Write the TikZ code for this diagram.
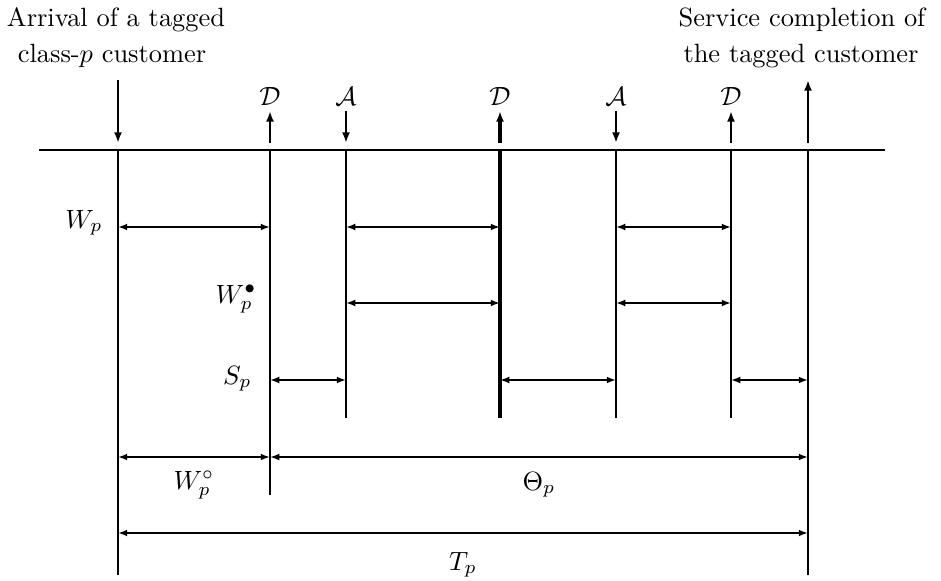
\documentclass[tikz,border=0pt]{standalone}
\usetikzlibrary{arrows.meta}
\begin{document}
\begin{tikzpicture}[x=0.0133cm,y=-0.0133cm,
  vline/.style={line width=0.85pt},
  thickv/.style={line width=1.2pt},
  evarrow/.style={line width=0.85pt,-{Latex[length=4pt,width=3pt]}},
  dim/.style={line width=0.7pt,{Latex[length=3.5pt,width=2.6pt]}-{Latex[length=3.5pt,width=2.6pt]}},
  dimthick/.style={line width=1.05pt,{Latex[length=3.5pt,width=2.6pt]}-{Latex[length=3.5pt,width=2.6pt]}},
  lbl/.style={inner sep=0pt}]
\useasboundingbox (0,0) rectangle (941,580);
% time axis
\coordinate (axL) at (39,150);
\coordinate (axR) at (885,150);
\draw[vline] (axL) -- (axR);
% vertical lines
\foreach \n/\x/\b in {a/118/575, b/270/495, c/346/418, e/616/418, f/731/418, g/808/575}{
  \coordinate (\n t) at (\x,150);
  \coordinate (\n b) at (\x,\b);
  \draw[vline] (\n t) -- (\n b);
}
\coordinate (dt) at (500,150);
\coordinate (db) at (500,418);
\draw[thickv] (dt) -- (db);
% event arrows
\coordinate (a0) at (118,80);  \coordinate (a1) at (118,143);
\draw[evarrow] (a0) -- (a1);
\coordinate (g0) at (808,143);  \coordinate (g1) at (808,80);
\draw[evarrow] (g0) -- (g1);
\coordinate (b0) at (270,143); \coordinate (b1) at (270,111);
\draw[evarrow] (b0) -- (b1);
\coordinate (c0) at (346,111); \coordinate (c1) at (346,143);
\draw[evarrow] (c0) -- (c1);
\coordinate (d0) at (500,143); \coordinate (d1) at (500,111);
\draw[evarrow,line width=1.2pt] (d0) -- (d1);
\coordinate (e0) at (616,111); \coordinate (e1) at (616,143);
\draw[evarrow] (e0) -- (e1);
\coordinate (f0) at (731,143); \coordinate (f1) at (731,111);
\draw[evarrow] (f0) -- (f1);
\node[lbl,anchor=base] (Db) at (270,105) {$\mathcal{D}$};
\node[lbl,anchor=base] (Ac) at (346,105) {$\mathcal{A}$};
\node[lbl,anchor=base] (Dd) at (500,105) {$\mathcal{D}$};
\node[lbl,anchor=base] (Ae) at (616,105) {$\mathcal{A}$};
\node[lbl,anchor=base] (Df) at (731,105) {$\mathcal{D}$};
% top texts
\node[lbl,anchor=base] (arr1) at (116,27) {Arrival of a tagged};
\node[lbl,anchor=base] (arr2) at (112,63) {class-$p$ customer};
\node[lbl,anchor=base] (srv1) at (802,27) {Service completion of};
\node[lbl,anchor=base] (srv2) at (801,63) {the tagged customer};
% W_p row
\draw[dimthick] (118,227) -- (270,227);
\draw[dimthick] (346,227) -- (500,227);
\draw[dimthick] (616,227) -- (731,227);
\node[lbl,anchor=base east] (Wp) at (103,228) {$W_p$};
% W_p bullet row
\draw[dimthick] (346,303) -- (500,303);
\draw[dimthick] (616,303) -- (731,303);
\node[lbl,anchor=base east] (Wb) at (257,303) {$W_p^\bullet$};
% S_p row
\draw[dim] (270,380) -- (346,380);
\draw[dim] (500,380) -- (616,380);
\draw[dim] (731,380) -- (808,380);
\node[lbl,anchor=base east] (Sp) at (252,384) {$S_p$};
% bottom
\draw[dim] (118,457) -- (270,457);
\draw[dim] (270,457) -- (808,457);
\node[lbl,anchor=base] (Wc) at (194,489) {$W_p^\circ$};
\node[lbl,anchor=base] (Th) at (539,490) {$\Theta_p$};
\draw[dim] (118,533) -- (808,533);
\node[lbl,anchor=base] (Tp) at (463,570) {$T_p$};
\end{tikzpicture}
\end{document}
